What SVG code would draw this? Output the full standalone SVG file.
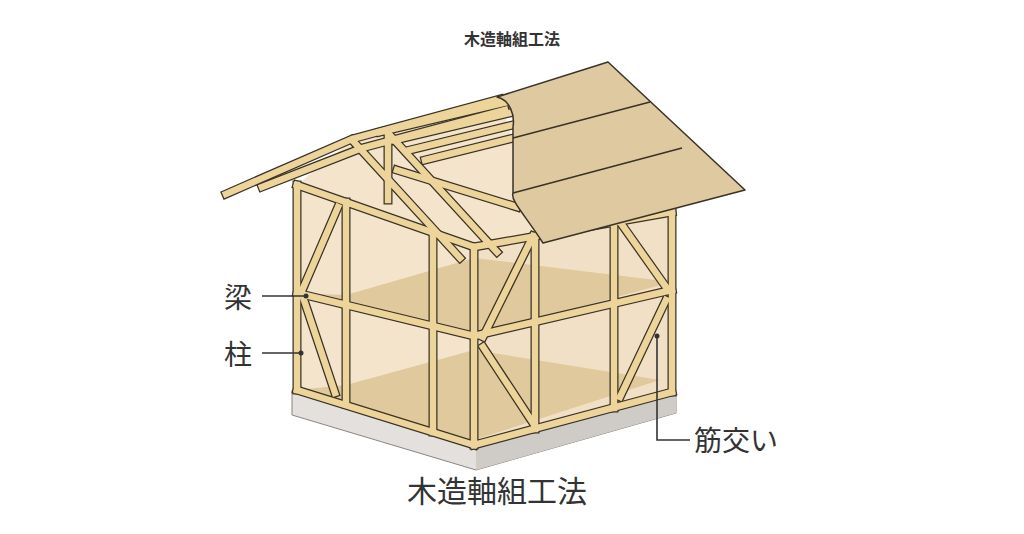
<svg xmlns="http://www.w3.org/2000/svg" xmlns:xlink="http://www.w3.org/1999/xlink" width="1024" height="534" viewBox="0 0 1024 534">
<style>
.t{font-family:"Noto Sans CJK JP","Noto Sans",sans-serif;fill:#333}
.ln{fill:none;stroke:#333;stroke-width:1.6}
.ol{fill:none;stroke:#3a3226;stroke-linejoin:round;stroke-linecap:square}
</style>
<defs>
<g id="tim" fill="none">
<path d="M397,170 L517,207"/>
<path d="M297,185 V390 M346,202 V404 M433,232 V432 M474,247 V445"/>
<path d="M297,185 L474,247 M297,390 L474,445 M297,293 L474,336"/>
<path d="M301,293 L338,207 M303,297 L335,393"/>
<path d="M535,236 V429 M614,222 V408 M672,212 V392"/>
<path d="M474,247 L672,212 M474,445 L672,392 M474,336 L672,290"/>
<path d="M483,337 L533,236 M483,347 L533,423 M620,222 L666,287 M666,300 L620,397"/>
<path d="M226,194 L352,139 L500,99"/>
<path d="M262,187 L362,148 L505,110"/>
<path d="M380,132 L520,99 M395,140 L522,110 M410,150 L525,122 M425,160 L526,135"/>
<path d="M388,137 V200"/>
<path d="M352,140 L460,258 M387,132 L497,252"/>
</g>
</defs>
<rect width="1024" height="534" fill="#fff"/>
<text class="t" x="512" y="45" text-anchor="middle" font-size="16" font-weight="bold">木造軸組工法</text>
<g id="house">
<polygon points="292,390 476,446 676,392 676,413 476,470 292,415" fill="#e3e0dd" stroke="#8a8580" stroke-width="1"/>
<polygon points="476,446 676,392 676,413 476,470" fill="#cfcbc7"/>
<polygon points="297,185 352,140 500,99 540,230 474,247 474,445 297,390" fill="#f4e4cc"/>
<polygon points="474,247 540,230 672,212 672,392 474,445" fill="#f2e0c6"/>
<polygon points="346,295 474,258 672,282 474,336 297,293" fill="#e0c99c"/>
<polygon points="346,385 474,350 660,380 474,440 297,390" fill="#e0c99c"/>
<use xlink:href="#tim" class="ol" stroke-width="9"/>
<use xlink:href="#tim" stroke="#ecd49a" stroke-width="6.5" stroke-linecap="square"/>
<path d="M608,62 L745,190 L543,243 C525,215 510,200 513,193 L513,127 C515,115 510,100 497,97 Z" fill="#dec9a0" stroke="#3a3226" stroke-width="1.5" stroke-linejoin="round"/>
<path d="M513,138 L650,102 M513,193 L682,148" fill="none" stroke="#3a3226" stroke-width="1.5"/>
</g>
<g id="labels">
<text class="t" x="224" y="308" font-size="28">梁</text>
<path class="ln" d="M262,296 H305"/><circle cx="306" cy="296" r="2.5" fill="#333"/>
<text class="t" x="224" y="365" font-size="28">柱</text>
<path class="ln" d="M262,353 H300"/><circle cx="301" cy="353" r="2.5" fill="#333"/>
<path class="ln" d="M657,336 V440 H690"/><circle cx="657" cy="336" r="2.5" fill="#333"/>
<text class="t" x="694" y="451" font-size="28">筋交い</text>
<text class="t" x="497" y="502" text-anchor="middle" font-size="30">木造軸組工法</text>
</g>
</svg>
